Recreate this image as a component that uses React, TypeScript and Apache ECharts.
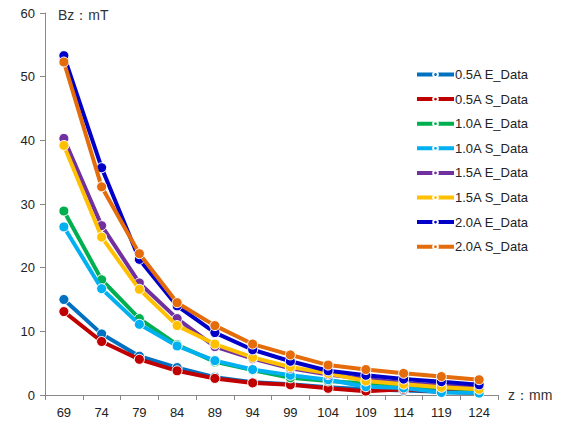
import React, { useEffect, useRef } from "react";
import * as echarts from "echarts";

const categories = ["69", "74", "79", "84", "89", "94", "99", "104", "109", "114", "119", "124"];
const seriesNames = [
  "0.5A E_Data", "0.5A S_Data", "1.0A E_Data", "1.0A S_Data",
  "1.5A E_Data", "1.5A S_Data", "2.0A E_Data", "2.0A S_Data",
];
const a05E = [15.0, 9.6, 6.1, 4.3, 2.8, 2.0, 1.7, 1.2, 0.9, 0.7, 0.5, 0.4];
const a05S = [13.1, 8.4, 5.6, 3.8, 2.6, 1.9, 1.6, 1.05, 0.6, 0.9, 0.5, 0.3];
const a10E = [28.9, 18.1, 12.0, 7.9, 5.2, 3.9, 2.7, 2.2, 1.8, 1.4, 1.1, 0.9];
const a10S = [26.4, 16.7, 11.1, 7.7, 5.4, 4.0, 3.1, 2.4, 1.3, 1.1, 0.4, 0.3];
const a15E = [40.3, 26.6, 17.6, 12.0, 7.6, 5.7, 4.2, 3.2, 2.5, 1.9, 1.5, 1.2];
const a15S = [39.2, 24.8, 16.6, 10.9, 8.0, 5.9, 4.4, 3.4, 2.2, 1.7, 1.2, 0.9];
const a20E = [53.3, 35.7, 21.3, 14.0, 9.8, 7.1, 5.3, 3.8, 3.1, 2.5, 2.1, 1.6];
const a20S = [52.3, 32.7, 22.2, 14.5, 10.9, 8.0, 6.3, 4.7, 4.0, 3.4, 2.9, 2.4];
const seriesData = [a05E, a05S, a10E, a10S, a15E, a15S, a20E, a20S];
const colors = ["#0070C0", "#C00000", "#00B050", "#00B0F0", "#7030A0", "#FFC000", "#0000C8", "#E46C0A"];

export default function App() {
  const ref = useRef<HTMLDivElement>(null);
  useEffect(() => {
    const chart = echarts.init(ref.current!, null, { renderer: "svg" });
    const font = "'Liberation Sans', Arial, sans-serif";
    chart.setOption({
      animation: false,
      textStyle: { fontFamily: font },
      grid: { left: 45, right: 64, top: 13, bottom: 29, containLabel: false },
      legend: {
        orient: "vertical",
        left: 410,
        top: 63,
        itemWidth: 37,
        itemHeight: 6,
        itemGap: 11.6,
        lineStyle: { width: 4 },
        textStyle: { fontSize: 13, color: "#222", fontFamily: font, padding: [0, 0, 0, -4] },
        data: seriesNames,
      },
      xAxis: {
        type: "category",
        data: categories,
        boundaryGap: true,
        axisLine: { lineStyle: { color: "#888", width: 1 } },
        axisTick: { show: true, length: 5, inside: false, lineStyle: { color: "#888" } },
        axisLabel: { fontSize: 13, color: "#222", margin: 11, fontFamily: font },
        splitLine: { show: false },
      },
      yAxis: {
        type: "value",
        min: 0,
        max: 60,
        interval: 10,
        axisLine: { show: true, lineStyle: { color: "#888", width: 1 } },
        axisTick: { show: true, length: 5, lineStyle: { color: "#888" } },
        axisLabel: { fontSize: 13, color: "#222", margin: 10, fontFamily: font },
        splitLine: { show: false },
      },
      graphic: [
        { type: "text", left: 58, top: 8, style: { text: "Bz：mT", fontSize: 14, fill: "#333", fontFamily: font } },
        { type: "text", left: 508, top: 388, style: { text: "z：mm", fontSize: 14, fill: "#333", fontFamily: font } },
      ],
      series: seriesNames.map((name, i) => ({
        name,
        type: "line",
        data: seriesData[i],
        color: colors[i],
        symbol: "circle",
        symbolSize: 10,
        lineStyle: { width: 4, color: colors[i] },
        itemStyle: { color: colors[i], borderColor: "#fff", borderWidth: 1 },
        z: 2 + i,
      })),
    });
    return () => chart.dispose();
  }, []);
  return <div ref={ref} style={{ position: "absolute", left: 0, top: 0, width: 562, height: 424 }} />;
}
